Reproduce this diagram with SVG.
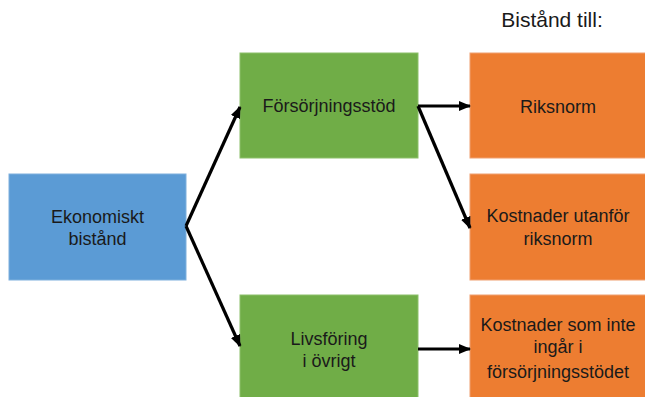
<svg xmlns="http://www.w3.org/2000/svg" width="645" height="397" viewBox="0 0 645 397">
<defs>
<style>
text{font-family:"Liberation Sans",Arial,sans-serif;font-size:18px;fill:#1a1a1a;text-anchor:middle}
.blue{fill:#5B9BD5;stroke:#7fb0dd;stroke-width:1}
.green{fill:#70AD47;stroke:#8cc06a;stroke-width:1}
.orange{fill:#ED7D31;stroke:#f0a070;stroke-width:1}
.conn{stroke:#000;stroke-width:3.2;fill:none;marker-end:url(#ah)}
</style>
<marker id="ah" markerUnits="userSpaceOnUse" markerWidth="12" markerHeight="12" viewBox="0 0 12 12" refX="11" refY="6" orient="auto">
<path d="M0,1 L12,6 L0,11 Z" fill="#000"/>
</marker>
</defs>
<rect width="645" height="397" fill="#fff"/>
<text x="552" y="27" style="font-size:21px">Bistånd till:</text>
<g id="ekonomiskt">
<rect class="blue" x="9" y="174" width="177" height="106"/>
<text x="97.5" y="223">Ekonomiskt</text>
<text x="97.5" y="245">bistånd</text>
</g>
<g id="forsorjningsstod">
<rect class="green" x="240" y="53" width="178" height="105"/>
<text x="329" y="112">Försörjningsstöd</text>
</g>
<g id="livsforing">
<rect class="green" x="240" y="295" width="178" height="108"/>
<text x="329" y="345">Livsföring</text>
<text x="329" y="367">i övrigt</text>
</g>
<g id="riksnorm">
<rect class="orange" x="470" y="53" width="180" height="105"/>
<text x="558" y="113">Riksnorm</text>
</g>
<g id="utanfor">
<rect class="orange" x="470" y="174" width="180" height="106"/>
<text x="558" y="222">Kostnader utanför</text>
<text x="558" y="245">riksnorm</text>
</g>
<g id="inte">
<rect class="orange" x="470" y="295" width="180" height="108"/>
<text x="558" y="331">Kostnader som inte</text>
<text x="558" y="353">ingår i</text>
<text x="558" y="378">försörjningsstödet</text>
</g>
<g id="connectors">
<path class="conn" d="M186,226 L240,107"/>
<path class="conn" d="M186,226 L240,346"/>
<line class="conn" x1="418" y1="106" x2="470" y2="106"/>
<line class="conn" x1="418" y1="106" x2="470" y2="228"/>
<line class="conn" x1="418" y1="349" x2="470" y2="349"/>
</g>
</svg>
